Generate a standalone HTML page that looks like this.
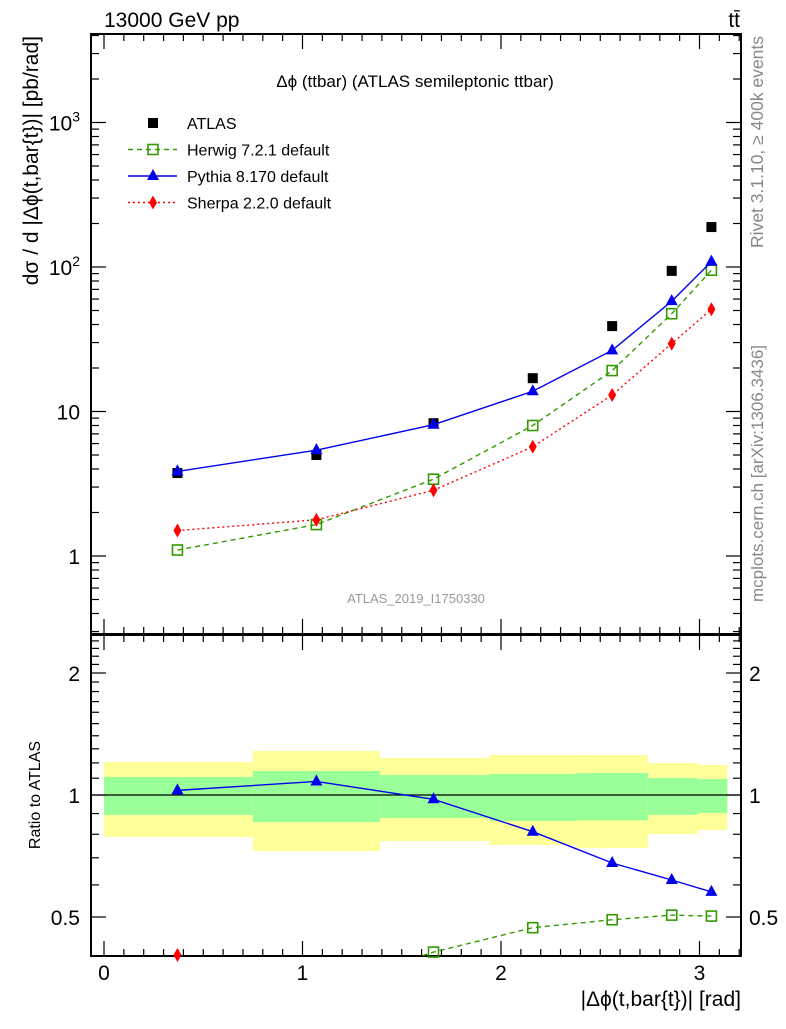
<!DOCTYPE html>
<html><head><meta charset="utf-8"><style>
body{margin:0;background:#fff;}
svg text{font-family:"Liberation Sans",sans-serif;}
</style></head><body>
<svg id="c" width="786" height="1024" xmlns="http://www.w3.org/2000/svg">
<defs>
<clipPath id="cm"><rect x="91" y="34" width="650" height="600"/></clipPath>
<clipPath id="cr"><rect x="91" y="635" width="650" height="321"/></clipPath>
<clipPath id="crm"><rect x="91" y="635" width="650" height="330"/></clipPath>
</defs>
<g id="g"></g>
</svg>
<script>
const xs=[0.37,1.07,1.66,2.16,2.56,2.86,3.06];
const atlas=[3.75,5.0,8.3,17,39,94,189];
const herwig=[1.1,1.65,3.4,8.0,19.2,47.5,95];
const pythia=[3.85,5.4,8.1,13.8,26.5,58,109];
const sherpa=[1.5,1.78,2.85,5.7,13,29.5,51];
const binEdges=[0,0.75,1.39,1.94,2.38,2.74,2.99,3.14];
const yelHi=[1.206,1.284,1.234,1.255,1.255,1.199,1.186];
const yelLo=[0.788,0.727,0.770,0.753,0.740,0.801,0.820];
const grnHi=[1.108,1.146,1.120,1.127,1.133,1.101,1.095];
const grnLo=[0.893,0.858,0.878,0.863,0.866,0.893,0.903];
const xTicks=[0,1,2,3];
const mainTicks=[1,10,100,1000];
const mainLabels=["1","10","10²","10³"];
const ratioTicks=[0.5,1,2];
const ratioLabels=["0.5","1","2"];

const L=91,R=741,MT=34,MB=634,RT=635,RB=956;
const X=v=>104+v*198.5;
const Y=v=>556-144.5*Math.log10(v);
const YR=v=>795-405.3*Math.log10(v);
const NS="http://www.w3.org/2000/svg";
const g=document.getElementById('g');
function el(t,a,p){const e=document.createElementNS(NS,t);for(const k in a)e.setAttribute(k,a[k]);(p||g).appendChild(e);return e;}
function txt(s,a,p){const e=el('text',a,p);e.textContent=s;return e;}

for(let i=0;i<yelHi.length;i++){
  const x0=X(binEdges[i]),x1=X(binEdges[i+1]);
  const y=el('rect',{x:x0,y:YR(yelHi[i]),width:x1-x0,height:YR(yelLo[i])-YR(yelHi[i]),fill:'#ffff99'});
  
  
  const gr=el('rect',{x:x0,y:YR(grnHi[i]),width:x1-x0,height:YR(grnLo[i])-YR(grnHi[i]),fill:'#99ff99'});
  
  
}
el('line',{x1:L,x2:R,y1:YR(1),y2:YR(1),stroke:'#000','stroke-width':1.2});

el('rect',{x:L,y:MT,width:R-L,height:MB-MT,fill:'none',stroke:'#000','stroke-width':2});
el('rect',{x:L,y:RT,width:R-L,height:RB-RT,fill:'none',stroke:'#000','stroke-width':2});

for(let k=0;k<=32;k++){
  const v=k/10;const x=X(v);if(x>R)break;
  const len=(k%10===0)?15:7;
  [[MT,1],[MB,-1],[RT,1],[RB,-1]].forEach(([y0,d])=>el('line',{x1:x,x2:x,y1:y0,y2:y0+d*len,stroke:'#000','stroke-width':1.2}));
}
xTicks.forEach(v=>{const t=txt(String(v),{x:X(v),y:980,'font-size':21,'text-anchor':'middle'});
  
  });

for(let e=-1;e<=3;e++)for(let m=1;m<10;m++){
  const v=m*Math.pow(10,e);const y=Y(v);if(y<MT||y>MB)continue;
  const len=m===1?15:8;
  el('line',{x1:L,x2:L+len,y1:y,y2:y,stroke:'#000','stroke-width':1.2});
  el('line',{x1:R,x2:R-len,y1:y,y2:y,stroke:'#000','stroke-width':1.2});
}
mainTicks.forEach((v,i)=>{
  const t=el('text',{x:80,y:Y(v)+8,'font-size':21,'text-anchor':'end'});
  
  
  if(v>=100){t.textContent='10';const s=el('tspan',{dy:-9,'font-size':14},t);s.textContent=v===100?'2':'3';}
  else t.textContent=mainLabels[i];
});
[0.4,0.5,0.6,0.7,0.8,0.9,1,2].forEach(v=>{const y=YR(v);if(y<RT||y>RB)return;
  const len=(v===0.5||v===1||v===2)?15:8;
  el('line',{x1:L,x2:L+len,y1:y,y2:y,stroke:'#000','stroke-width':1.2});
  el('line',{x1:R,x2:R-len,y1:y,y2:y,stroke:'#000','stroke-width':1.2});});
for(let k=11;k<=24;k++){const v=k/10;if(k===20)continue;const y=YR(v);if(y<RT)continue;
  el('line',{x1:L,x2:L+8,y1:y,y2:y,stroke:'#000','stroke-width':1.2});
  el('line',{x1:R,x2:R-8,y1:y,y2:y,stroke:'#000','stroke-width':1.2});}
ratioTicks.forEach((v,i)=>{
  const a=txt(ratioLabels[i],{x:80,y:YR(v)+8,'font-size':21,'text-anchor':'end'});
  
  
  const b=txt(ratioLabels[i],{x:749,y:YR(v)+8,'font-size':21});
  
  
});

function mark(type,x,y,col,p){
  let e;
  if(type==='sq')e=el('rect',{x:x-5,y:y-5,width:10,height:10,fill:'#000'},p);
  else if(type==='osq')e=el('rect',{x:x-5,y:y-5,width:10,height:10,fill:'none',stroke:col,'stroke-width':1.6},p);
  else if(type==='tri')e=el('polygon',{points:`${x},${y-7} ${x-6},${y+4} ${x+6},${y+4}`,fill:col},p);
  else e=el('polygon',{points:`${x},${y-7} ${x-4},${y} ${x},${y+7} ${x+4},${y}`,fill:col},p);
  return e;
}
const series=[
  {d:herwig,name:'herwig',col:'#339900',dash:'5,4',m:'osq'},
  {d:pythia,name:'pythia',col:'#0000ee',dash:'',m:'tri'},
  {d:sherpa,name:'sherpa',col:'#ff0000',dash:'2,3',m:'dia'}];
const gm=el('g',{'clip-path':'url(#cm)'});
const gr=el('g',{'clip-path':'url(#cr)'});
const grm=el('g',{'clip-path':'url(#crm)'});
atlas.forEach((v,i)=>{const m=mark('sq',X(xs[i]),Y(v),'#000',gm);
  
  });
series.forEach(s=>{
  const pl=el('polyline',{points:s.d.map((v,i)=>X(xs[i])+','+Y(v)).join(' '),fill:'none',stroke:s.col,'stroke-width':1.4,'stroke-dasharray':s.dash},gm);
  
  
  s.d.forEach((v,i)=>{const m=mark(s.m,X(xs[i]),Y(v),s.col,gm);
    
    });
  const r=s.d.map((v,i)=>v/atlas[i]);
  const rl=el('polyline',{points:r.map((v,i)=>X(xs[i])+','+YR(v)).join(' '),fill:'none',stroke:s.col,'stroke-width':1.4,'stroke-dasharray':s.dash},gr);
  
  
  r.forEach((v,i)=>{const y=YR(v);if(y>RB+4)return;
    const m=mark(s.m,X(xs[i]),Math.min(y,RB-1),s.col,grm);
    
    });
});

const T=(s,a,n)=>{const t=txt(s,a);return t;};
T('13000 GeV pp',{x:104,y:27,'font-size':21},'energy-label');
T('tt̄',{x:740,y:27,'font-size':21,'text-anchor':'end'},'process-label');
T('Δϕ (ttbar) (ATLAS semileptonic ttbar)',{x:415,y:87,'font-size':17,'text-anchor':'middle'},'plot-title');
T('ATLAS_2019_I1750330',{x:416,y:603,'font-size':13,fill:'#999','text-anchor':'middle'},'analysis-id');
T('dσ / d |Δϕ(t,bar{t})| [pb/rad]',{x:0,y:0,'font-size':21,'text-anchor':'end',transform:'translate(38,36) rotate(-90)'},'y-axis-title');
T('Ratio to ATLAS',{x:0,y:0,'font-size':16,'text-anchor':'middle',transform:'translate(40,795) rotate(-90)'},'ratio-axis-title');
T('|Δϕ(t,bar{t})| [rad]',{x:741,y:1006,'font-size':21,'text-anchor':'end'},'x-axis-title');
T('Rivet 3.1.10, ≥ 400k events',{x:0,y:0,'font-size':17.5,fill:'#888','text-anchor':'end',transform:'translate(763,36) rotate(-90)'},'rivet-label');
T('mcplots.cern.ch [arXiv:1306.3436]',{x:0,y:0,'font-size':17,fill:'#888','text-anchor':'end',transform:'translate(763,345) rotate(-90)'},'mcplots-label');

const leg=[['ATLAS',null],['Herwig 7.2.1 default',series[0]],['Pythia 8.170 default',series[1]],['Sherpa 2.2.0 default',series[2]]];
leg.forEach((l,i)=>{const y=123+i*26.5;
  if(!l[1]){mark('sq',153,y,'#000');}
  else{const ln=el('line',{x1:128,x2:177,y1:y,y2:y,stroke:l[1].col,'stroke-width':1.4,'stroke-dasharray':l[1].dash});
    
    
    mark(l[1].m,153,y,l[1].col);}
  T(l[0],{x:187,y:y+6,'font-size':16},'legend-entry');
});
</script>
</body></html>
